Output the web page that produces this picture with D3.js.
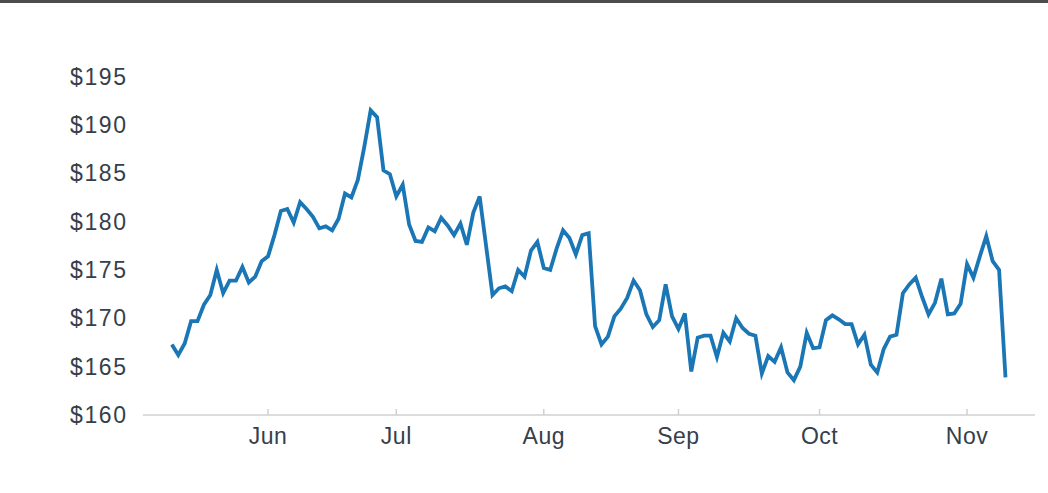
<!DOCTYPE html>
<html>
<head>
<meta charset="utf-8">
<script src="https://cdn.jsdelivr.net/npm/d3@7"></script>
<style>
  html, body { margin: 0; padding: 0; background: #fff; }
  svg { display: block; }
  .lbl { font-family: "Liberation Sans", Arial, sans-serif; font-size: 23px; fill: #34404c; }
  .ylbl { letter-spacing: 1.6px; }
  .xlbl { letter-spacing: 0.5px; }
</style>
</head>
<body>
<svg id="chart" width="1048" height="493"></svg>
<script>
// Daily closing prices (one per trading day)
const prices = [
  167.3, 166.2, 167.4, 169.7, 169.7, 171.4, 172.4, 175.0, 172.6, 173.9,
  173.9, 175.3, 173.7, 174.3, 175.9, 176.4, 178.6, 181.1, 181.3, 179.9,
  182.0, 181.3, 180.5, 179.3, 179.5, 179.1, 180.3, 182.9, 182.5, 184.3,
  187.7, 191.5, 190.8, 185.3, 184.9, 182.6, 183.8, 179.7, 178.0, 177.9,
  179.4, 179.0, 180.4, 179.6, 178.6, 179.8, 177.6, 180.9, 182.6, 177.5,
  172.4, 173.1, 173.3, 172.8, 175.0, 174.3, 177.0, 177.9, 175.2, 175.0,
  177.2, 179.1, 178.3, 176.6, 178.6, 178.8, 169.2, 167.3, 168.1, 170.2,
  171.0, 172.1, 173.9, 172.9, 170.4, 169.1, 169.8, 173.5, 170.2, 168.9,
  170.5, 164.5, 168.0, 168.2, 168.2, 166.0, 168.5, 167.6, 170.0, 169.0,
  168.4, 168.2, 164.3, 166.1, 165.5, 167.0, 164.4, 163.6, 165.0, 168.5,
  166.9, 167.0, 169.8, 170.3, 169.9, 169.4, 169.4, 167.3, 168.3, 165.2,
  164.4, 166.8, 168.1, 168.3, 172.6, 173.5, 174.2, 172.2, 170.4, 171.6,
  174.1, 170.4, 170.5, 171.5, 175.6, 174.2, 176.4, 178.5, 175.9, 175.0,
  163.9
];
// Month ticks: index of first trading day of each month
const monthTickIndex = [15, 35, 58, 79, 101, 124];
const monthTickLabels = ["Jun", "Jul", "Aug", "Sep", "Oct", "Nov"];
const yTicks = [160, 165, 170, 175, 180, 185, 190, 195];

const svg = d3.select("#chart");

// top border bar
svg.append("rect").attr("x", 0).attr("y", 0).attr("width", 1048).attr("height", 3).attr("fill", "#4d4d4f");

const x = d3.scaleLinear().domain([-4.5, 134.6]).range([143, 1035]);
const y = d3.scaleLinear().domain([160, 195]).range([415, 76.5]);

// y labels
svg.append("g").selectAll("text").data(yTicks).join("text")
  .attr("class", "lbl ylbl")
  .attr("x", 70)
  .attr("y", d => y(d) + 8)
  .text(d => "$" + d);

// x axis baseline
svg.append("line")
  .attr("x1", x.range()[0]).attr("x2", x.range()[1])
  .attr("y1", y(160)).attr("y2", y(160))
  .attr("stroke", "#d0d0d0").attr("stroke-width", 1.5);

// x ticks
svg.append("g").selectAll("line").data(monthTickIndex).join("line")
  .attr("x1", d => x(d)).attr("x2", d => x(d))
  .attr("y1", y(160)).attr("y2", y(160) - 6)
  .attr("stroke", "#d0d0d0").attr("stroke-width", 1.5);

svg.append("g").selectAll("text").data(monthTickIndex).join("text")
  .attr("class", "lbl xlbl")
  .attr("x", d => x(d))
  .attr("y", y(160) + 29)
  .attr("text-anchor", "middle")
  .text((d, i) => monthTickLabels[i]);

// price line
const line = d3.line().x((d, i) => x(i)).y(d => y(d));
svg.append("path")
  .datum(prices)
  .attr("d", line)
  .attr("fill", "none")
  .attr("stroke", "#1a76b5")
  .attr("stroke-width", 3.8);
</script>
</body>
</html>
